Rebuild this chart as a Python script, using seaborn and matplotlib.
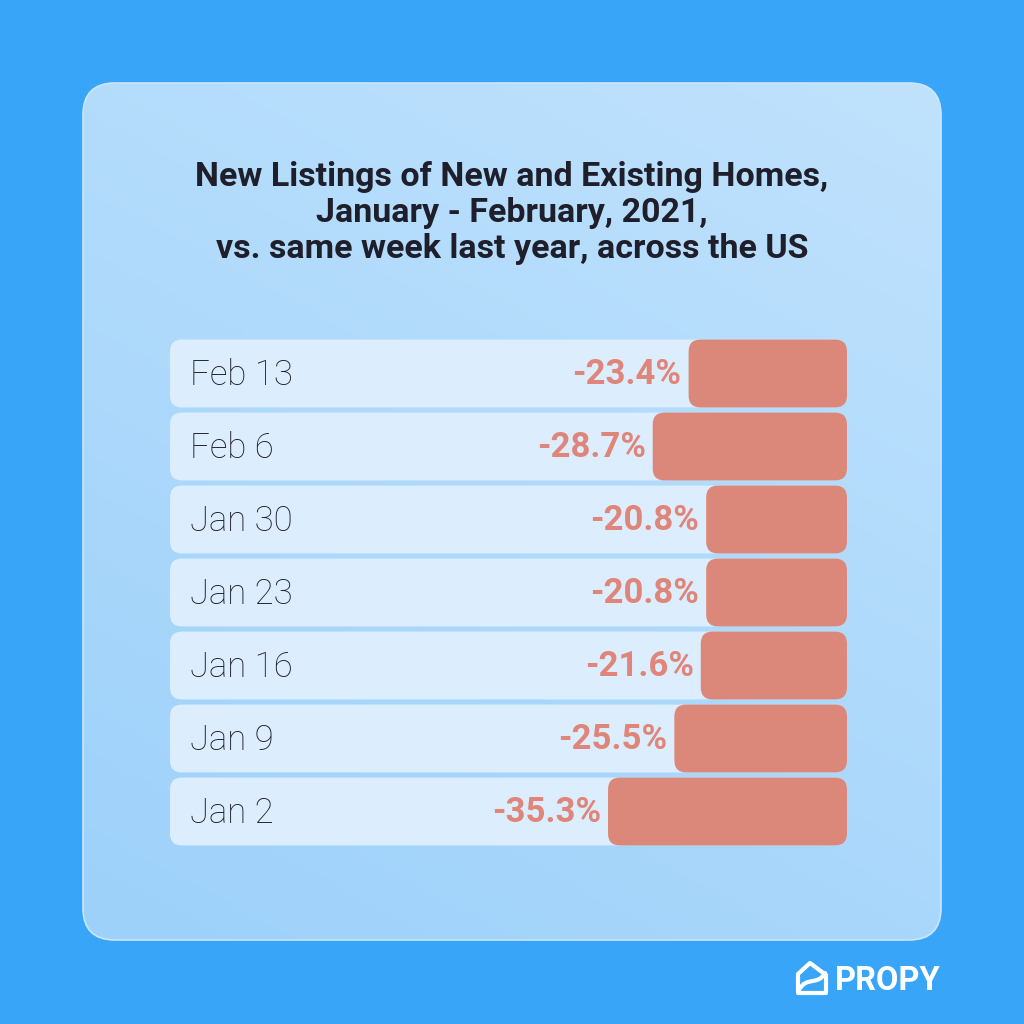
import numpy as np
import pandas as pd
import matplotlib
matplotlib.use("Agg")
import matplotlib.pyplot as plt
from matplotlib.patches import FancyBboxPatch, PathPatch
from matplotlib.path import Path
import seaborn as sns

# data
dates = ["Feb 13", "Feb 6", "Jan 30", "Jan 23", "Jan 16", "Jan 9", "Jan 2"]
changes = [-23.4, -28.7, -20.8, -20.8, -21.6, -25.5, -35.3]
title = ("New Listings of New and Existing Homes,\n"
         "January - February, 2021,\n"
         "vs. same week last year, across the US")

df = pd.DataFrame({"date": dates, "change": changes, "full": [-100] * len(dates)})

sns.set_theme(style="white")
plt.rcParams["font.family"] = ["Roboto", "DejaVu Sans"]

BG = "#39a5f8"
ROW = "#dcedfd"
BAR = "#db877a"
PCT = "#e0857a"
DARK = "#1f1f2b"

fig = plt.figure(figsize=(10.24, 10.24), dpi=100, facecolor=BG)

# card with soft gradient (lightest top-right, darkest bottom-left)
bg = fig.add_axes([0, 0, 1, 1])
bg.set_xlim(0, 1024)
bg.set_ylim(1024, 0)
bg.axis("off")
card = FancyBboxPatch((83, 83), 858, 857, boxstyle="round,pad=0,rounding_size=32",
                      fc="none", ec="#c9e7fe", lw=1.2, zorder=3)
bg.add_patch(card)
yy, xx = np.mgrid[0:1:200j, 0:1:200j]
grad = 0.35 * (1 - xx) + 0.65 * yy
cmap = matplotlib.colors.LinearSegmentedColormap.from_list("card", ["#c0e2fd", "#9dd1fa"])
im = bg.imshow(grad, extent=(83, 941, 940, 83), cmap=cmap, aspect="auto", zorder=1)
im.set_clip_path(card)

bg.text(512, 213, title, ha="center", va="center", fontsize=24.5, fontweight="bold",
        color=DARK, linespacing=1.16)

# logo
house = Path([(798, 993), (798, 974), (810, 963), (826, 975), (826, 993), (798, 993)],
             [Path.MOVETO, Path.LINETO, Path.LINETO, Path.LINETO, Path.LINETO, Path.CLOSEPOLY])
bg.add_patch(PathPatch(house, fc="none", ec="white", lw=3, joinstyle="round", zorder=4))
curve = Path([(799, 990), (806, 976), (818, 986), (825, 973)],
             [Path.MOVETO, Path.CURVE4, Path.CURVE4, Path.CURVE4])
bg.add_patch(PathPatch(curve, fc="none", ec="white", lw=3, capstyle="round", zorder=4))
bg.text(835, 981, "PROPY", ha="left", va="center", fontsize=23.5, fontweight="bold",
        color="white")

# chart
ax = fig.add_axes([170 / 1024, (1024 - 848) / 1024, 677 / 1024, 511 / 1024])
ax.set_facecolor("none")
sns.barplot(data=df, x="full", y="date", color=ROW, width=0.93, saturation=1, ax=ax)
sns.barplot(data=df, x="change", y="date", color=BAR, width=0.93, saturation=1, ax=ax)
ax.set_xlim(-100, 0)
ax.set_ylim(len(dates) - 0.5, -0.5)

# rounded corners
px_x = 100 / 677
px_y = len(dates) / 511
r = 12
for p in list(ax.patches):
    x0 = min(p.get_x(), p.get_x() + p.get_width())
    w = abs(p.get_width())
    fb = FancyBboxPatch((x0, p.get_y()), w, p.get_height(),
                        boxstyle=f"round,pad=0,rounding_size={r * px_x}",
                        mutation_aspect=px_y / px_x, fc=p.get_facecolor(), ec="none")
    p.remove()
    ax.add_patch(fb)

for i, (d, v) in enumerate(zip(dates, changes)):
    ax.text(-100 + 20 * px_x, i + 0.02, d, ha="left", va="center", fontsize=25,
            fontweight="light", color=DARK)
    ax.text(v - 7 * px_x, i + 0.02, f"{v:.1f}%", ha="right", va="center", fontsize=25,
            fontweight="bold", color=PCT)

ax.axis("off")

fig.savefig("out.png", dpi=100, facecolor=BG)
